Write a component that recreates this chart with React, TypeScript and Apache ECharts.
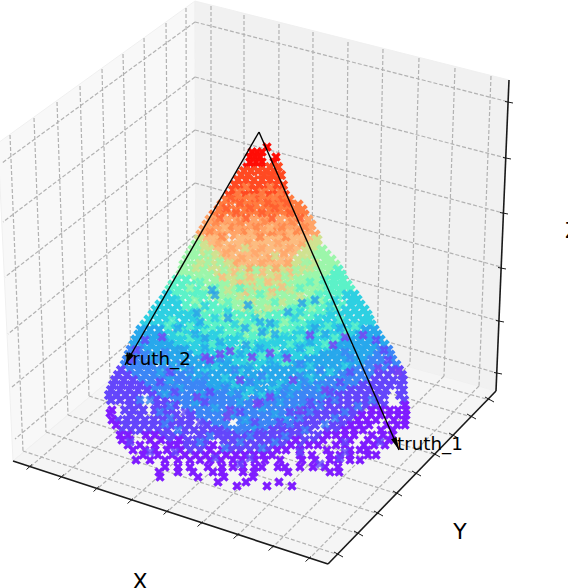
import React, { useEffect, useRef } from "react";
import * as echarts from "echarts";

// Every row is [screenY, screenX, screenX, ...].
const redRows = [[147,267],[152,252,257,262],[157,250,255,260,276],[162,250,256,262,274],[167,247,254,262]];
const redOrangeRows = [[167,270,278],[171,244,251,258,266,274],[175,241,248,264,272,281],[180,238,246,254,262,270,278],[185,235,243,251,259,267,275,283],[190,233,241,249,257,265,273,281],[195,229,237,245,253,261,269,277,285]];
const orangeRows = [[200,226,235,243,251,259,267,275,283,289],[205,222,240,248,256,265,273,281,290,298],[210,219,227,236,245,253,261,270,279,288,296,302],[215,214,223,232,241,250,258,267,276,285,293,304]];
const peachRows = [[220,210,219,228,236,245,254,262,271,280,289,298,308],[225,207,215,224,233,241,250,259,268,276,285,294,303,311],[230,204,212,221,229,238,247,256,264,273,281,290,300,309],[235,201,209,218,235,244,253,261,270,279,288,297,306,315]];
const lightOrangeRows = [[240,206,215,224,241,250,258,267,276,285,293,302,310],[245,211,220,229,238,247,255,264,273,282,291,300],[250,218,227,235,244,252,261,270,279,288,297],[255,222,231,240,249,258,266,275,284,293],[260,228,237,246,254,263,272,280,289],[265,234,243,252,260,269,278,286]];
const khakiRows = [[240,199,317],[245,203,308,317],[250,200,209,306,315],[255,204,213,302,311],[260,209,219,298,307],[265,206,216,225,295,304],[270,212,221,230,239,248,257,266,275,284,293,302],[275,218,227,236,245,254,263,272,281,290,299],[280,226,235,244,253,262,271,280,289],[285,234,243,252,261,270,279]];
const mintRows = [[245,196],[250,193,322],[255,190,195,320,326],[260,187,198,316,325,331],[265,184,195,313,322,330,335],[270,183,193,203,311,320,329],[275,181,190,199,209,308,317,326],[280,196,205,215,298,307,316],[285,201,210,219,225,288,297,306,315],[290,205,214,223,232,241,250,259,268,277,286,295,304,313],[295,212,221,230,239,248,257,266,275,284,293,311],[300,218,227,236,245,254,263,272,281,290,299,307],[305,225,234,243,252,261,270,279,288,297],[310,238,247,256,265,274,283]];
const aquaRows = [[270,338],[275,335,341],[280,177,186,325,334,343],[285,173,182,191,324,333,342,347],[290,170,178,187,196,322,331,340,350],[295,176,185,194,203,320,329,338],[300,181,190,199,316,325,334],[305,186,195,204,213,306,315,324,333,342],[310,182,191,200,209,218,227,292,301,310,319,328,337],[315,196,205,214,223,232,241,250,259,268,277,286,295,304,313,322],[320,201,210,219,228,237,246,255,264,273,282,291,300,309,318],[325,207,216,225,234,243,252,261,270,279,288,297,306],[330,213,222,231,240,249,258,267,276,285,294,303],[335,225,234,243,252,261,270,279,288],[340,243,252,261,270]];
const cyanRows = [[295,167,347,354],[300,164,172,352,357],[305,160,168,177,351,360],[310,156,164,173,346,355,364],[315,153,161,170,179,188,331,340,349,358,367],[320,149,158,167,185,193,327,336,345,354,363,369],[325,145,154,163,172,180,189,198,315,324,333,342,351,360,371],[330,168,177,186,195,204,312,321,330,339,348,357],[335,164,173,182,191,200,209,216,297,306,315,324,333,342,351],[340,171,180,189,198,207,216,225,234,279,288,297,306,315,324,333,342],[345,177,186,195,204,213,222,231,249,258,267,276,285,294,303,312,321,330],[350,192,201,210,219,228,237,246,255,264,273,291,300,309,318,327],[355,198,207,216,225,234,243,252,261,270,279,288,297,306,315],[360,219,228,237,246,255,264,273,282,291,300],[365,234,243,252,261,270,279,288]];
const azureRows = [[330,141,150,159,366,374],[335,139,147,155,360,369,377],[340,136,144,153,162,351,360,369,380],[345,134,142,151,160,169,339,348,357,366,375,384],[350,148,157,166,175,184,336,345,354,363,372],[355,152,161,170,179,188,324,333,342,351,360,369],[360,150,158,167,176,185,194,203,211,309,318,327,336,345,354,363],[365,163,172,181,190,199,208,217,226,297,306,315,324,333,342,351,360],[370,176,185,194,203,212,221,230,239,248,266,275,284,293,302,311,320,329,338,347],[375,190,199,208,217,226,235,244,253,262,271,280,289,298,307,316,325,334],[380,195,204,213,222,231,240,249,258,267,276,285,294,303,312,321],[385,210,219,228,237,246,255,273,282,291,300,309],[390,216,225,234,243,252,261,270,279,288,297],[395,231,240,258,267,276]];
const blueRows = [[350,131,139,381,388],[355,129,137,145,378,390],[360,127,135,143,372,381,392],[365,125,133,141,150,369,378,387,396],[370,130,139,148,157,167,356,365,374,383],[375,136,145,154,163,172,181,343,352,361,370],[380,142,151,160,169,178,187,330,339,348,357,366],[385,148,157,166,175,184,193,202,318,327,336,345,354],[390,155,164,173,182,191,200,208,306,315,324,333,342],[395,160,169,178,187,196,205,214,222,285,294,303,312,321,330],[400,177,186,195,204,213,222,231,240,249,258,267,276,285,294,303,312,321],[405,186,195,204,213,222,231,240,249,258,267,276,285,294,303,312],[410,190,199,208,217,226,235,244,253,262,271,280,289,298],[415,200,209,218,227,236,245,254,263,272,281,290],[420,204,214,223,241,250,259,268,277,286,295],[425,216,225,243,252,261,270,279],[430,228,237,246,255,264]];
const indigoRows = [[370,121,392,399],[375,118,127,379,388,402],[380,115,124,133,375,384,393,403],[385,113,122,131,140,363,372,381,390,400],[390,111,120,129,138,147,351,360,369,378,386,403],[395,109,117,126,135,152,339,348,357,366,375,384,400],[400,111,120,129,138,156,165,330,339,348,357,366,375,380,404],[405,130,139,157,166,175,321,330,339,348,357,366,375,384],[410,125,133,143,155,164,172,307,316,325,334,343,352,361],[415,130,140,158,167,176,191,299,308,317,326,335,344,353],[420,118,127,136,145,154,163,172,181,190,304,313,322,340,349],[425,126,135,144,153,162,171,180,189,207,288,297,306,315,333,342],[430,122,131,140,149,158,167,185,194,203,212,219,273,282,291,300,309,327,336],[435,164,173,182,200,209,218,227,236,245,254,263,272,281,290,299,318],[440,170,188,197,206,224,233,242,251,260,269,278,287,305,314],[445,186,195,204,228,237,246,255,264,273,282,300],[450,190,200,231,240,250,259,268]];
const violetRows = [[405,405],[410,112,372,381,390,398,406],[413,110],[415,362,371,380,389,398,406],[420,112,358,367,376,394,405],[425,116,351,360,369,387,397,405],[430,345,354,363,381,393],[435,120,128,146,155,327,336,345,354,372,383,392],[440,122,130,150,161,179,296,323,341,350,368,378,389],[445,128,140,155,170,177,213,291,309,318,336,345,364,374,385],[450,133,145,155,167,180,210,222,277,286,300,327,350,360,367],[455,143,158,172,185,196,206,216,226,236,245,254,263,272,300,312,330,340,350,368,376],[460,136,150,165,178,190,200,210,221,233,242,255,265,280,302,315,330,338,350,360],[467,165,178,190,208,222,233,243,255,262,278,285,300,313,325,338],[472,159,178,193,213,222,243,254,288,330,339],[477,160,198,224,253],[482,218,246,279],[486,237,267,292]];
const speckAzureRows = [[290,212],[295,215],[303,302],[300,315],[305,248],[312,288],[313,197],[318,228],[323,270],[328,315],[332,262],[338,205],[345,246],[350,180]];
const speckIndigoRows = [[335,310,363],[337,162,345],[345,333],[351,230],[353,270],[354,220],[357,205,252],[358,287],[360,210],[368,378],[372,398],[380,293,240],[390,325],[397,197,270],[404,257],[410,230,300],[417,227]];
// Stray markers whose colour differs from the band around them.
const mixRedOrange = [[198,231,255,279],[203,240,268,287],[208,226,250,275],[213,236,262,290],[218,220,246,272,300]];
const mixOrange = [[187,246,270],[192,238,262,280],[197,252,275],[222,216,240,265,292],[227,230,256,282,305],[232,210,245,272,296],[237,222,260,286]];
const mixPeach = [[243,218,248,278,302],[248,232,262,290],[253,226,255,284],[258,242,270],[263,235,262,288],[268,250,276]];
const mixLightOrange = [[228,225,270],[233,250,290],[238,212,240,300],[272,235,262,290],[277,222,250,278],[282,240,268],[287,252,282],[292,245,272]];
const mixKhaki = [[248,205,245,310],[256,216,275,305],[263,200,230,315],[268,196,310],[290,228,258,290],[296,240,270,300],[302,252,282],[308,246,268],[314,258]];
const mixMint = [[254,208,316],[262,208,220,305],[270,224,256,296],[276,205,240,285,312],[282,215,260,302],[288,190,250,320],[300,195,320],[308,202,312,330],[316,225,262,300],[322,240,285],[328,255,278],[334,245,268]];
const mixAqua = [[282,200,310],[288,215,240,300],[294,200,260,318],[302,228,275,310],[308,218,250,295],[320,172,340],[326,168,190,328,355],[332,180,205,320,345],[338,190,222,300,335],[344,212,250,290,325],[350,235,275,310],[356,220,262],[362,250,285]];
const mixCyan = [[300,176,335],[306,205,330],[312,195,228,300,330],[318,215,255,295,318],[324,235,275,310],[330,220,265,300],[336,240,285],[342,262,275],[366,180,215,310,345],[372,205,240,300,330],[378,225,265,310],[384,235,280],[390,250,272],[396,245,262]];
const mixAzure = [[322,200,260],[328,178,245,340],[334,195,275,325],[342,165,220,310,345],[348,205,260,300,360],[354,180,240,285,335],[360,228,270,320],[366,250,275],[372,160,350],[380,170,340],[388,180,212,320],[394,165,200,290,325],[402,195,240,280],[408,215,262,300],[414,230,275],[420,245,285],[426,255]];
const mixBlue = [[352,165,345],[358,160,220,350],[364,135,180,300,370],[370,190,235,320],[376,205,262,300],[382,200,250,305],[388,225,285],[394,238,270],[400,140,150,335,372],[406,170,320,358],[412,160,310,345],[418,170,300,335],[424,165,290,325],[430,178,240,305],[436,210,250,285],[442,200,240,275],[448,225,262]];
const mixIndigo = [[340,145,376],[350,136,384],[360,132,388],[372,170,350],[382,160,340],[392,175,210,330],[402,205,260,310],[412,185,240,290],[422,200,255,280],[432,225,260],[442,130,345,380],[452,150,175,300,345],[458,215,250,340],[464,240,320]];

const bandColors = ["#ff0d06", "#ff4a22", "#ff7c40", "#ffa468", "#fcbc80", "#d0e290", "#9cf6aa", "#5cf2c8", "#2ed0e2", "#28a8ec", "#3c86f6", "#6446fb", "#7f1cff"];
const bandRows = [redRows, redOrangeRows, orangeRows, peachRows, lightOrangeRows, khakiRows, mintRows, aquaRows, cyanRows, azureRows, blueRows, indigoRows, violetRows];
const bandSizes = [9.5, 10.5, 11.5, 11.5, 11.5, 11.5, 11.5, 11.5, 11.5, 11.5, 11, 10.5, 9.5];
const mixColors = ["#ff5a2c", "#ff8448", "#ffa468", "#fcbc80", "#d0e290", "#9cf6aa", "#5cf2c8", "#2ed0e2", "#28a8ec", "#3c86f6", "#6446fb", "#2aa0e8", "#7a40f4"];
const mixRows = [mixRedOrange, mixOrange, mixPeach, mixLightOrange, mixKhaki, mixMint, mixAqua, mixCyan, mixAzure, mixBlue, mixIndigo, speckAzureRows, speckIndigoRows];

const panes = [
  { points: [[195, 1], [196, 308], [13, 461], [-2, 143]], fill: "#f8f8f8" },
  { points: [[195, 1], [509, 80], [496, 391], [196, 308]], fill: "#f1f1f1" },
  { points: [[196, 308], [496, 391], [328, 564], [13, 461]], fill: "#f5f5f5" },
];

const rightWallVerticals = [[211,6,211,312],[244,15,244,321],[279,24,278,331],[313,32,312,340],[348,42,345,349],[383,49,377,358],[419,58,410,364],[455,68,444,376],[491,76,479,386]];
const leftWallVerticals = [[10,135,23,451],[34,118,46,432],[57,102,68,415],[80,86,89,396],[102,69,110,379],[123,54,131,362],[144,38,150,346],[166,23,169,330],[186,8,187,316]];
const rightWallLevels = [[195,22,509,102],[195,77,506,158],[195,130,503,213],[195,183,501,267],[195,235,499,321],[195,287,497,373]];
const leftWallLevels = [[195,22,2,163],[195,77,3,222],[195,130,5,277],[195,183,8,334],[195,235,12,387],[195,287,15,439]];
const floorToXAxis = [[211,312,30,467],[244,321,62,477],[278,331,97,489],[312,340,131,501],[345,349,167,512],[377,358,201,524],[410,364,237,536],[444,376,272,548],[479,386,309,559]];
const floorToYAxis = [[23,451,339,555],[46,432,359,534],[68,415,379,514],[89,396,398,494],[110,379,417,474],[131,362,436,455],[150,346,454,436],[169,330,472,417],[187,316,490,400]];
const gridSegments = [...rightWallVerticals, ...leftWallVerticals, ...rightWallLevels, ...leftWallLevels, ...floorToXAxis, ...floorToYAxis];

const axisEdges = [[13,461,328,564],[328,564,496,391],[496,391,509,80]];
const xTicks = [[30,467],[62,477],[97,489],[131,501],[167,512],[201,524],[237,536],[272,548],[309,559]];
const yTicks = [[339,555],[359,534],[379,514],[398,494],[417,474],[436,455],[454,436],[472,417],[490,400]];
const zTicks = [[508,102],[506,158],[503,213],[501,268],[499,321],[497,373]];

const truthArrows = [[259,132,125,365],[259,132,399,450]];

const tickSegments = [
  ...xTicks.map(([x, y]) => [x - 3.5, y + 2.5, x + 2, y - 2.5]),
  ...yTicks.map(([x, y]) => [x - 5, y - 3, x + 4, y + 2]),
  ...zTicks.map(([x, y]) => [x - 3, y - 0.5, x + 5, y + 1]),
];

const markerPath = "path://M3 0L6 3L9 0L12 3L9 6L12 9L9 12L6 9L3 12L0 9L3 6L0 3Z";

const flatten = (rows: number[][]) => rows.flatMap(([y, ...xs]) => xs.map((x) => [x, y]));

function segmentSeries(data: number[][], stroke: string, lineWidth: number, z: number, lineDash?: number[]) {
  return {
    type: "custom",
    silent: true,
    z,
    data,
    encode: { x: [0, 2], y: [1, 3] },
    renderItem: (_p: any, api: any) => {
      const a = api.coord([api.value(0), api.value(1)]);
      const b = api.coord([api.value(2), api.value(3)]);
      return {
        type: "line",
        shape: { x1: a[0], y1: a[1], x2: b[0], y2: b[1] },
        style: { stroke, lineWidth, lineDash: lineDash || null, fill: null },
      };
    },
  };
}

const label = (text: string, x: number, y: number, size: number, align = "left") => ({
  type: "text",
  x,
  y,
  z: 100,
  style: {
    text,
    fill: "#000",
    font: `${size}px "DejaVu Sans"`,
    textAlign: align,
    textVerticalAlign: "middle",
  },
});

export default function App() {
  const ref = useRef<HTMLDivElement>(null);
  useEffect(() => {
    const chart = echarts.init(ref.current!, null, { renderer: "svg" });
    chart.setOption({
      animation: false,
      backgroundColor: "#fff",
      grid: { left: 0, right: 0, top: 0, bottom: 0 },
      xAxis: { type: "value", min: 0, max: 568, show: false },
      yAxis: { type: "value", min: 0, max: 588, inverse: true, show: false },
      graphic: [
        label("truth_2", 125, 358, 18.3),
        label("truth_1", 397, 443, 18.3),
        label("X", 140, 581, 22, "center"),
        label("Y", 460, 531, 22, "center"),
        label("Z", 565, 230, 22),
      ],
      series: [
        {
          type: "custom",
          silent: true,
          z: 0,
          data: panes.map((_, i) => [i]),
          encode: { x: 0, y: 0 },
          renderItem: (p: any, api: any) => {
            const pane = panes[p.dataIndex];
            return {
              type: "polygon",
              shape: { points: pane.points.map((pt) => api.coord(pt)) },
              style: { fill: pane.fill, stroke: "#f0f0f0", lineWidth: 1 },
            };
          },
        },
        segmentSeries(gridSegments, "#b2b2b2", 1.2, 1, [4, 2]),
        segmentSeries(axisEdges, "#1a1a1a", 1.6, 1),
        segmentSeries(tickSegments, "#1a1a1a", 1, 1),
        ...bandRows.map((rows, i) => ({
          type: "scatter",
          silent: true,
          z: 2,
          symbol: markerPath,
          symbolSize: bandSizes[i],
          progressive: 0,
          itemStyle: { color: bandColors[i], opacity: 1 },
          data: flatten(rows),
        })),
        ...mixRows.map((rows, i) => ({
          type: "scatter",
          silent: true,
          z: 3,
          symbol: markerPath,
          symbolSize: 9.5,
          progressive: 0,
          itemStyle: { color: mixColors[i], opacity: 0.8 },
          data: flatten(rows),
        })),
        segmentSeries(truthArrows, "#000", 1.4, 10),
        {
          type: "custom",
          silent: true,
          z: 10,
          data: truthArrows,
          encode: { x: [0, 2], y: [1, 3] },
          renderItem: (_p: any, api: any) => {
            const a = api.coord([api.value(0), api.value(1)]);
            const b = api.coord([api.value(2), api.value(3)]);
            const len = Math.hypot(b[0] - a[0], b[1] - a[1]);
            const ux = (b[0] - a[0]) / len;
            const uy = (b[1] - a[1]) / len;
            const bx = b[0] - ux * 13;
            const by = b[1] - uy * 13;
            return {
              type: "polygon",
              shape: {
                points: [
                  [b[0], b[1]],
                  [bx - uy * 3, by + ux * 3],
                  [bx + uy * 3, by - ux * 3],
                ],
              },
              style: { fill: "#000" },
            };
          },
        },
      ],
    });
    return () => chart.dispose();
  }, []);
  return <div ref={ref} style={{ position: "absolute", left: 0, top: 0, width: 568, height: 588 }} />;
}
